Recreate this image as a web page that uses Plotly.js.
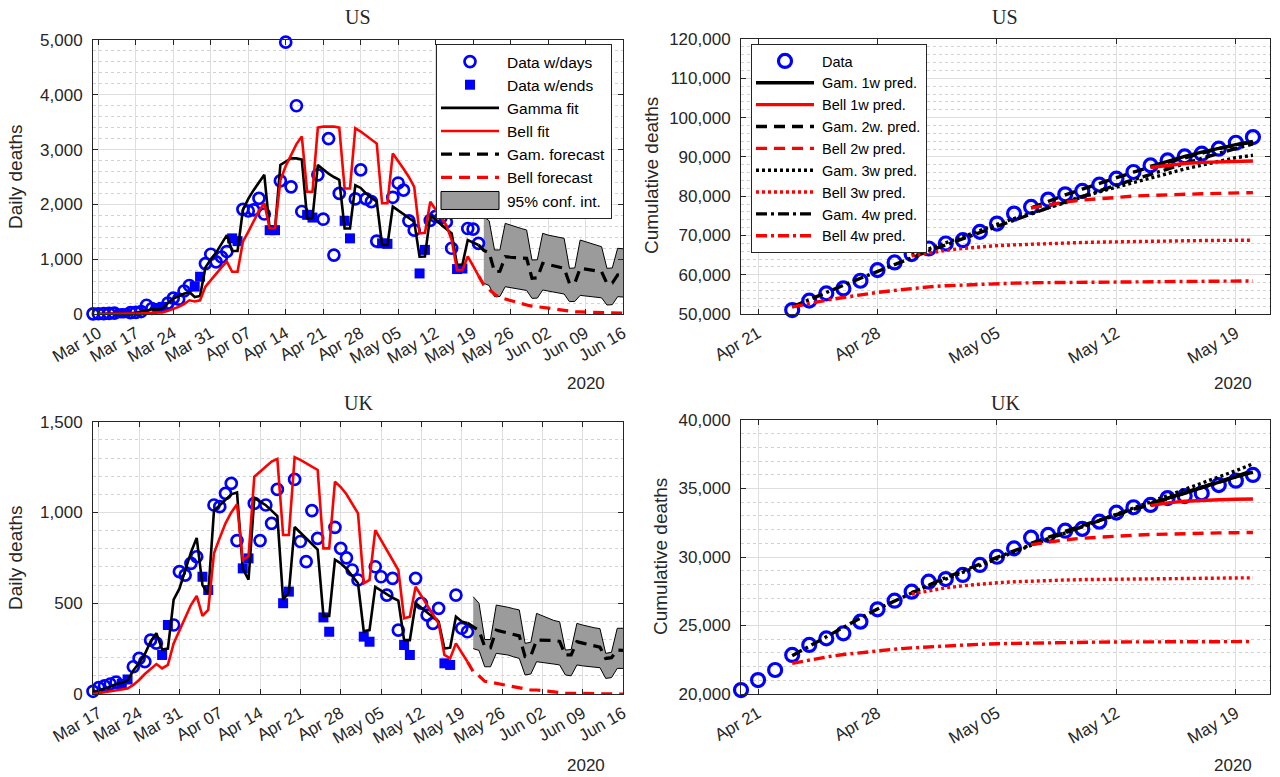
<!DOCTYPE html>
<html><head><meta charset="utf-8">
<script src="https://cdn.plot.ly/plotly-3.0.1.min.js"></script>
<style>html,body{margin:0;padding:0;background:#fff}#chart{width:1280px;height:777px}</style>
</head><body><div id="chart"></div>
<script>
// ================= DATA =================
// --- US daily deaths ---
const usDailyStart = '2020-03-09';
const usDaily = [3,5,8,10,15,12,15,25,30,45,160,100,110,130,200,290,270,420,520,500,680,920,1090,950,1040,1140,1380,1330,1910,1880,1900,2110,1825,1530,1530,2430,4960,2320,3800,1870,1810,1760,2540,1730,3200,1075,2200,1700,1380,2100,2630,2100,2050,1330,1290,1280,2130,2390,2260,1700,1530,740,1170,1710,1780,1760,1680,1200,820,830,1560,1550,1290];
const usFitStart = '2020-03-10';
const usGammaFit = [2,3,5,7,8,9,15,25,40,60,85,80,100,200,280,330,370,400,310,330,850,1000,1120,1280,1440,1150,1150,1900,2100,2260,2400,2540,1550,1560,2720,2780,2840,2840,2820,1745,1750,2720,2640,2560,2500,2450,1560,1560,2350,2300,2200,2120,2050,1260,1260,1960,1890,1820,1750,1685,1045,1050,1800,1720,1640,1550,1470,895,900,1350,1300,1260];
const usBellFit = [0,0,1,2,2,3,5,8,12,18,25,25,30,60,90,130,180,250,230,250,500,620,740,850,955,770,770,1320,1500,1700,1880,2020,1560,1560,2440,2700,2900,3100,3240,2230,2230,3400,3420,3420,3420,3400,2290,2290,3390,3330,3260,3190,3110,2020,2020,2930,2800,2650,2500,2320,1470,1480,2050,1900,1750,1620,1350,800,800,1050,880,700];
const usForecastStart = '2020-05-20';
const usGamForecast = [1260,1160,1120,772,780,1046,1035,1025,1020,1016,651,660,925,905,880,860,834,560,565,834,820,805,790,772,560,565,712,700];
const usBellForecast = [700,530,450,360,300,270,240,210,185,165,145,135,125,110,95,80,65,45,40,38,36,33,30,27,20,18,17,15];
const usBandStart = '2020-05-21';
const usBandUpper = [1776,1700,1168,1170,1654,1620,1590,1560,1533,985,990,1472,1440,1420,1400,1381,834,840,1350,1320,1290,1260,1228,834,840,1199,1190];
const usBandLower = [560,520,316,320,498,480,460,445,430,286,290,438,420,400,380,365,225,230,340,330,318,305,295,164,170,316,310];

// --- UK daily deaths ---
const ukDailyStart = '2020-03-16';
const ukDaily = [15,35,45,55,65,55,80,150,196,178,297,280,215,380,380,674,655,720,756,646,573,1041,1032,1105,1160,845,692,747,1050,845,1041,940,1127,500,564,1182,840,729,1010,857,422,343,918,802,750,683,628,316,288,701,646,545,637,352,270,215,637,500,435,389,472,169,160,545,362,343];
const ukFitStart = '2020-03-16';
const ukGammaFit = [10,20,30,40,55,60,75,130,170,220,290,335,245,250,520,580,680,780,860,600,550,1010,1040,1070,1100,1110,690,630,1080,1060,1040,1010,980,520,560,920,890,860,830,795,430,430,740,720,690,650,610,345,352,590,570,550,530,515,297,297,500,475,450,425,398,250,255,426,400,390];
const ukBellFit = [0,5,10,15,20,22,30,50,77,110,140,165,141,160,279,350,420,490,540,430,463,775,860,940,1000,1045,738,760,1197,1225,1255,1280,1295,876,876,1304,1290,1270,1250,1234,802,802,1170,1140,1100,1050,995,610,628,903,850,790,740,683,417,426,591,540,490,440,389,215,196,279,230,178];
const ukForecastStart = '2020-05-20';
const ukGamForecast = [390,371,350,261,255,352,345,338,330,320,206,210,297,297,297,295,290,215,215,288,280,272,265,258,196,200,242,240];
const ukBellForecast = [178,123,100,70,65,59,52,45,40,35,25,22,22,18,14,10,8,5,4,3,3,2,2,1,1,1,0,0];
const ukBandStart = '2020-05-21';
const ukBandUpper = [536,500,300,300,490,485,478,470,463,279,285,444,430,418,405,398,242,245,389,380,371,365,360,224,230,362,362];
const ukBandLower = [250,240,150,150,224,220,215,205,196,105,110,178,175,170,165,160,105,100,160,155,150,148,145,86,90,141,141];

// --- US cumulative deaths and predictions ---
const usCumStart = '2020-04-23';
const usCum = [51000,53400,55250,56500,58460,61170,63120,65240,66670,67940,68790,70900,73020,75560,77250,79120,80470,81320,82930,84450,86140,87830,89100,90120,90800,92070,93590,95030];
const pred1wStart = '2020-05-14', pred2wStart = '2020-05-07', pred3wStart = '2020-04-30', pred4wStart = '2020-04-23';
const usGam1w = [87600,88900,90100,91200,92200,93100,93900];
const usBell1w = [87300,87900,88300,88600,88750,88850,88930];
const usGam2w = [77000,78700,80300,81800,83300,84700,86100,87400,88600,89800,91000,92100,93000,93800];
const usBell2w = [77000,77800,78500,79000,79400,79800,80000,80200,80400,80500,80600,80700,80800,80900];
const usGam3w = [65000,66600,68200,69800,71300,72800,74300,75700,77100,78500,79800,81100,82300,83500,84700,85800,86900,87900,88900,89800,90400];
const usBell3w = [64800,65600,66200,66700,67100,67400,67600,67800,67950,68100,68200,68300,68400,68480,68550,68600,68650,68700,68730,68760,68790];
const usGam4w = [51800,53700,55500,57300,59100,60900,62600,64300,66000,67600,69200,70800,72400,74000,75500,77000,78500,80000,81400,82800,84200,85600,87000,88300,89600,90900,92100,93300];
const usBell4w = [51800,52700,53500,54200,54900,55500,56000,56500,56900,57200,57400,57600,57750,57850,57950,58000,58050,58100,58150,58200,58250,58300,58320,58340,58360,58380,58400,58420];

// --- UK cumulative deaths and predictions ---
const ukCumStart = '2020-04-20';
const ukCum = [20290,21020,21750,22850,23580,24060,24430,25280,26180,26810,27470,28200,28390,28690,29420,30020,30630,31410,31610,31920,32050,32580,33240,33630,33800,34300,34450,34650,35250,35570,35990];
const ukGam1w = [33900,34300,34700,35100,35500,35850,36200];
const ukBell1w = [33750,33950,34070,34140,34180,34210,34230];
const ukGam2w = [31000,31450,31900,32300,32700,33100,33500,33900,34300,34700,35100,35500,35900,36300];
const ukBell2w = [30900,31100,31250,31370,31460,31530,31590,31640,31680,31710,31740,31760,31775,31790];
const ukGam3w = [27400,27900,28400,28900,29400,29900,30400,30850,31300,31750,32200,32650,33100,33550,34000,34450,34900,35350,35800,36300,36800];
const ukBell3w = [27300,27550,27750,27900,28020,28120,28190,28250,28290,28320,28350,28370,28390,28410,28420,28430,28440,28450,28460,28470,28480];
const ukGam4w = [22800,23500,24200,24900,25550,26200,26800,27400,27950,28500,29000,29500,30000,30450,30900,31350,31800,32250,32650,33050,33450,33850,34250,34650,35050,35450,35850,36250];
const ukBell4w = [22240,22500,22700,22880,23030,23160,23270,23370,23450,23520,23580,23630,23670,23700,23730,23750,23770,23780,23790,23800,23805,23810,23815,23818,23820,23822,23824,23825];

// tick labels / titles
const dailyTitles = ['US', 'UK'];
const cumTitles = ['US', 'UK'];
const legendDaily = ['Data w/days','Data w/ends','Gamma fit','Bell fit','Gam. forecast','Bell forecast','95% conf. int.'];
const legendCum = ['Data','Gam. 1w pred.','Bell 1w pred.','Gam. 2w. pred.','Bell 2w pred.','Gam. 3w pred.','Bell 3w pred.','Gam. 4w pred.','Bell 4w pred.'];

// ================= HELPERS =================
const DAY = 86400000;
function dates(start, n) {
  const t0 = Date.parse(start + 'T00:00:00Z');
  const out = [];
  for (let i = 0; i < n; i++) out.push(new Date(t0 + i * DAY).toISOString().slice(0, 10));
  return out;
}
function isWeekend(d) { const w = new Date(d + 'T00:00:00Z').getUTCDay(); return w === 0 || w === 6; }
function splitWeek(start, vals) {
  const x = dates(start, vals.length);
  const wd = {x: [], y: []}, we = {x: [], y: []};
  x.forEach((d, i) => { const t = isWeekend(d) ? we : wd; t.x.push(d); t.y.push(vals[i]); });
  return {wd, we};
}

const BLUE = '#0000ff', RED = '#ff0000', BLACK = '#000000', GREY = '#9b9b9b';
const DASH = '11px,7px', DOT = '3px,3px', DASHDOT = '11px,4px,3px,4px';
const SANS = 'Liberation Sans, Arial, sans-serif';
const SERIF = 'Liberation Serif, Times New Roman, serif';

function dailyTraces(xa, ya, leg, show, s) {
  const sp = splitWeek(s.dataStart, s.data);
  const common = {xaxis: xa, yaxis: ya, hoverinfo: 'skip'};
  const t = [];
  t.push(Object.assign({}, common, {x: dates(s.bandStart, s.lower.length), y: s.lower, mode: 'lines',
    line: {color: BLACK, width: 1}, showlegend: false}));
  t.push(Object.assign({}, common, {x: dates(s.bandStart, s.upper.length), y: s.upper, mode: 'lines',
    fill: 'tonexty', fillcolor: GREY, line: {color: BLACK, width: 1},
    name: legendDaily[6], legendrank: 7, showlegend: show, legend: leg}));
  t.push(Object.assign({}, common, {x: sp.wd.x, y: sp.wd.y, mode: 'markers', cliponaxis: false,
    marker: {symbol: 'circle-open', size: 11, color: BLUE, line: {width: 2.7, color: BLUE}},
    name: legendDaily[0], legendrank: 1, showlegend: show, legend: leg}));
  t.push(Object.assign({}, common, {x: sp.we.x, y: sp.we.y, mode: 'markers', cliponaxis: false,
    marker: {symbol: 'square', size: 10, color: BLUE},
    name: legendDaily[1], legendrank: 2, showlegend: show, legend: leg}));
  t.push(Object.assign({}, common, {x: dates(s.fitStart, s.gamma.length), y: s.gamma, mode: 'lines',
    line: {color: BLACK, width: 2.6}, name: legendDaily[2], legendrank: 3, showlegend: show, legend: leg}));
  t.push(Object.assign({}, common, {x: dates(s.fitStart, s.bell.length), y: s.bell, mode: 'lines',
    line: {color: RED, width: 2.6}, name: legendDaily[3], legendrank: 4, showlegend: show, legend: leg}));
  t.push(Object.assign({}, common, {x: dates(s.fcStart, s.gamFc.length), y: s.gamFc, mode: 'lines',
    line: {color: BLACK, width: 3.2, dash: DASH}, name: legendDaily[4], legendrank: 5, showlegend: show, legend: leg}));
  t.push(Object.assign({}, common, {x: dates(s.fcStart, s.bellFc.length), y: s.bellFc, mode: 'lines',
    line: {color: RED, width: 3.2, dash: DASH}, name: legendDaily[5], legendrank: 6, showlegend: show, legend: leg}));
  return t;
}

function cumTraces(xa, ya, leg, show, s) {
  const common = {xaxis: xa, yaxis: ya, hoverinfo: 'skip', mode: 'lines', showlegend: show, legend: leg};
  const t = [];
  t.push(Object.assign({}, common, {x: dates(s.dataStart, s.data.length), y: s.data, mode: 'markers', cliponaxis: false,
    marker: {symbol: 'circle-open', size: 13, color: BLUE, line: {width: 3.2, color: BLUE}}, name: legendCum[0], legendrank: 1}));
  const lines = [
    [s.gam4w, pred4wStart, BLACK, DASHDOT, 7], [s.gam3w, pred3wStart, BLACK, DOT, 5],
    [s.gam2w, pred2wStart, BLACK, DASH, 3], [s.gam1w, pred1wStart, BLACK, 'solid', 1],
    [s.bell4w, pred4wStart, RED, DASHDOT, 8], [s.bell3w, pred3wStart, RED, DOT, 6],
    [s.bell2w, pred2wStart, RED, DASH, 4], [s.bell1w, pred1wStart, RED, 'solid', 2]
  ];
  lines.forEach(([v, st, c, d, k]) => {
    t.push(Object.assign({}, common, {x: dates(st, v.length), y: v, line: {color: c, width: 3.4, dash: d},
      name: legendCum[k], legendrank: k + 1}));
  });
  return t;
}

const traces = [].concat(
  dailyTraces('x', 'y', 'legend', true, {dataStart: usDailyStart, data: usDaily, fitStart: usFitStart, gamma: usGammaFit, bell: usBellFit,
    fcStart: usForecastStart, gamFc: usGamForecast, bellFc: usBellForecast, bandStart: usBandStart, upper: usBandUpper, lower: usBandLower}),
  cumTraces('x2', 'y2', 'legend2', true, {dataStart: usCumStart, data: usCum, gam1w: usGam1w, bell1w: usBell1w, gam2w: usGam2w, bell2w: usBell2w,
    gam3w: usGam3w, bell3w: usBell3w, gam4w: usGam4w, bell4w: usBell4w}),
  dailyTraces('x3', 'y3', 'legend', false, {dataStart: ukDailyStart, data: ukDaily, fitStart: ukFitStart, gamma: ukGammaFit, bell: ukBellFit,
    fcStart: ukForecastStart, gamFc: ukGamForecast, bellFc: ukBellForecast, bandStart: ukBandStart, upper: ukBandUpper, lower: ukBandLower}),
  cumTraces('x4', 'y4', 'legend2', false, {dataStart: ukCumStart, data: ukCum, gam1w: ukGam1w, bell1w: ukBell1w, gam2w: ukGam2w, bell2w: ukBell2w,
    gam3w: ukGam3w, bell3w: ukBell3w, gam4w: ukGam4w, bell4w: ukBell4w})
);

// ================= LAYOUT =================
const W = 1280, H = 777;
const px = v => v / W, py = v => 1 - v / H;
const base = {
  showline: true, linecolor: '#262626', linewidth: 1, mirror: 'ticks',
  ticks: 'inside', ticklen: 5, tickcolor: '#262626', tickwidth: 1,
  showgrid: true, gridcolor: '#dedede', gridwidth: 1, zeroline: false,
  tickfont: {family: SANS, size: 17, color: '#262626'}, fixedrange: true
};
function xDate(domain, anchor, range, tick0) {
  return Object.assign({}, base, {type: 'date', domain, anchor, range, tick0, dtick: 7 * DAY,
    tickformat: '%b %d', tickangle: -30, ticklabelstandoff: 2});
}
function yLin(domain, anchor, range, dtick, minor) {
  return Object.assign({}, base, {domain, anchor, range, dtick, tickformat: ',d', ticklabelstandoff: 6,
    minor: {dtick: minor, showgrid: true, gridcolor: '#d2d2d2', griddash: 'dot', gridwidth: 1}});
}
const ann = (text, x, y, size, family, extra) => Object.assign({text, x: px(x), y: py(y), xref: 'paper', yref: 'paper',
  showarrow: false, xanchor: 'center', yanchor: 'middle', font: {family, size, color: '#262626'}}, extra || {});

const legendBase = {xanchor: 'left', yanchor: 'top', bgcolor: '#fff', bordercolor: '#262626', borderwidth: 1,
  itemwidth: 60, traceorder: 'normal'};
const layout = {
  width: W, height: H, margin: {l: 0, r: 0, t: 0, b: 0}, paper_bgcolor: '#fff', plot_bgcolor: '#fff',
  showlegend: true,
  xaxis: xDate([px(93), px(623)], 'y', ['2020-03-09', '2020-06-16'], '2020-03-10'),
  yaxis: yLin([py(314), py(40)], 'x', [0, 5000], 1000, 200),
  xaxis2: xDate([px(741), px(1270)], 'y2', ['2020-04-20', '2020-05-21'], '2020-04-21'),
  yaxis2: yLin([py(314), py(39)], 'x2', [50000, 120000], 10000, 2000),
  xaxis3: xDate([px(93), px(623)], 'y3', ['2020-03-16', '2020-06-16'], '2020-03-17'),
  yaxis3: yLin([py(694), py(421.7)], 'x3', [0, 1500], 500, 100),
  xaxis4: xDate([px(741), px(1270)], 'y4', ['2020-04-20', '2020-05-21'], '2020-04-21'),
  yaxis4: yLin([py(694), py(420)], 'x4', [20000, 40000], 5000, 1000),
  legend: Object.assign({x: px(436), y: py(44), font: {family: SANS, size: 15.5, color: '#000'}}, legendBase),
  legend2: Object.assign({x: px(751), y: py(44), font: {family: SANS, size: 14.5, color: '#000'}}, legendBase),
  annotations: [
    ann(dailyTitles[0], 358, 17, 20, SERIF), ann(cumTitles[0], 1005, 17, 20, SERIF),
    ann(dailyTitles[1], 358, 403, 20, SERIF), ann(cumTitles[1], 1005, 403, 20, SERIF),
    ann('Daily deaths', 15, 177, 19, SANS, {textangle: -90}),
    ann('Daily deaths', 15, 558, 19, SANS, {textangle: -90}),
    ann('Cumulative deaths', 651, 176, 19, SANS, {textangle: -90}),
    ann('Cumulative deaths', 660, 557, 19, SANS, {textangle: -90}),
    ann('2020', 586, 383, 17, SANS), ann('2020', 1233, 383, 17, SANS),
    ann('2020', 586, 765, 17, SANS), ann('2020', 1233, 765, 17, SANS)
  ]
};

// widen legend samples to the long MATLAB-style symbols
function fixLegend(gd) {
  gd.querySelectorAll('g.traces').forEach(item => {
    const fillPaths = Array.from(item.querySelectorAll('path.js-fill'));
    const isBand = fillPaths.some(p => (p.getAttribute('d') || '').length > 0);
    const lines = item.querySelectorAll('path.js-line');
    if (isBand) {
      fillPaths.forEach(p => p.setAttribute('d', 'M4,-9h58v18h-58z'));
      lines.forEach(p => { p.setAttribute('d', 'M4,-9h58v18h-58z'); p.style.fill = 'none'; });
    } else {
      lines.forEach(p => p.setAttribute('d', 'M4,0h58'));
    }
    item.querySelectorAll('path.scatterpts').forEach(p => p.setAttribute('transform', 'translate(33,0)'));
  });
}

const gdiv = document.getElementById('chart');
Plotly.newPlot(gdiv, traces, layout, {displayModeBar: false, staticPlot: true}).then(gd => {
  fixLegend(gd);
  gd.on && gd.on('plotly_afterplot', () => fixLegend(gd));
  setTimeout(() => fixLegend(gd), 200);
});
</script>
</body></html>
